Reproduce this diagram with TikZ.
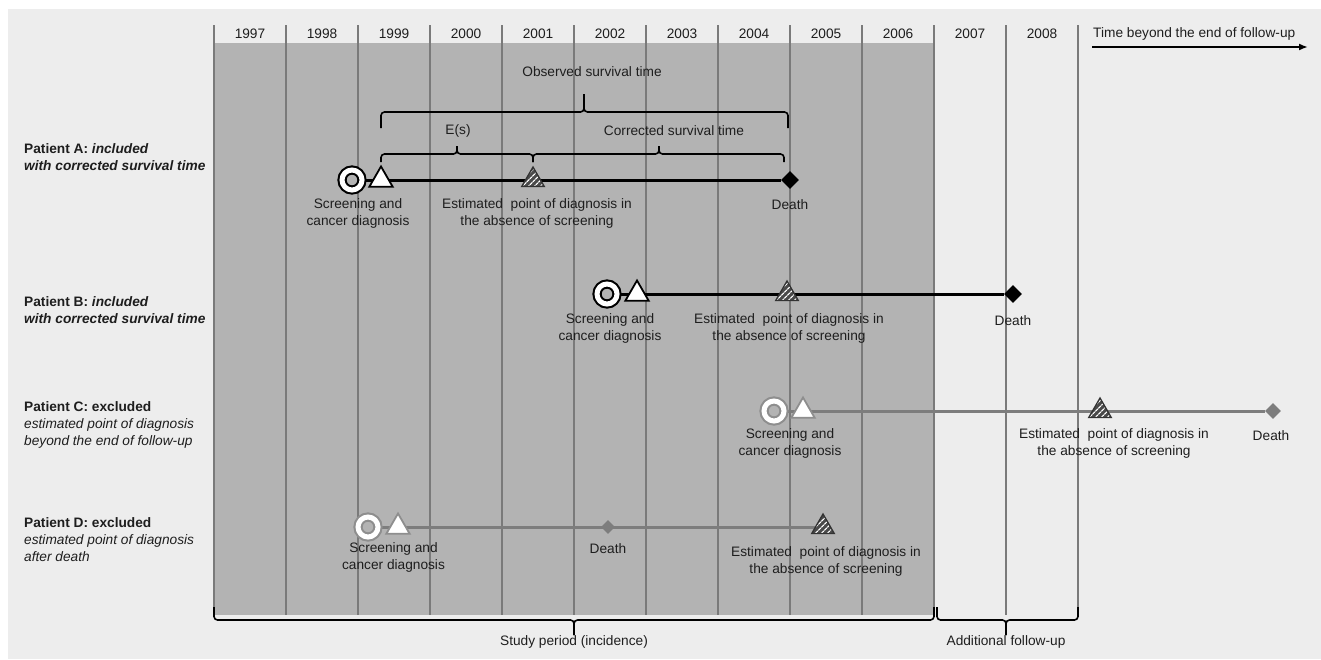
\documentclass[tikz,border=0pt]{standalone}
\usepackage{fontspec}
\setmainfont{Liberation Sans}
\usetikzlibrary{shapes.geometric,patterns.meta,arrows.meta}
\definecolor{bgc}{HTML}{EDEDED}
\definecolor{dark}{HTML}{B3B3B3}
\definecolor{gridc}{HTML}{7A7A7A}
\definecolor{txt}{HTML}{1E1E1E}
\definecolor{gline}{HTML}{7D7D7D}
\definecolor{gring}{HTML}{8E8E8E}
\definecolor{hatchbg}{HTML}{4A4A4A}
\pgfdeclarelayer{back}\pgfdeclarelayer{mid}\pgfsetlayers{back,mid,main}
\newcommand\fs{\fontsize{13.7}{17}\selectfont}
\begin{document}
\begin{tikzpicture}[x=1pt,y=-1pt,
 every node/.style={font=\fs, text=txt, inner sep=0pt},
 lab/.style={align=center},
 plab/.style={anchor=west, align=left},
 scr/.style={circle, draw=black, line width=2.1pt, double=white, double distance=5pt, fill=dark, minimum size=20pt, inner sep=0pt},
 scrg/.style={scr, draw=gring},
 tri/.style={regular polygon, regular polygon sides=3, draw=black, fill=white, line width=1.8pt, minimum size=27pt, inner sep=0pt},
 trig/.style={tri, draw=gring},
 hat/.style={regular polygon, regular polygon sides=3, draw=black!80, line width=1.3pt, minimum size=26pt, inner sep=0pt, preaction={fill=hatchbg}, pattern={Lines[angle=45,distance=4pt,line width=1.3pt]}, pattern color=white},
 dia/.style={diamond, fill=black, minimum size=18pt, inner sep=0pt},
 diag/.style={dia, fill=gline, minimum size=15pt},
 tl/.style={line width=3pt, draw=black},
 tlg/.style={tl, draw=gline},
 brc/.style={line width=1.6pt, rounded corners=3.5pt}
]
\useasboundingbox (0,0) rectangle (1321,659);
\begin{pgfonlayer}{back}
\fill[white] (0,0) rectangle (1321,659);
\fill[bgc] (8,9) rectangle (1321,659);
\fill[dark] (214,43) rectangle (934,615);
\foreach \i in {0,...,12} \draw[gridc, line width=1.1pt] (214+72*\i,25) -- (214+72*\i,615);
\end{pgfonlayer}

% header
\foreach \y [count=\i from 0] in {1997,...,2008} \node (y\y) at (250+72*\i,34) {\y};
\node[anchor=west] (tb) at (1093,34) {Time beyond the end of follow-up};
\coordinate (tbL) at (1092,47);
\coordinate (tbR) at (1308,47);
\draw[line width=2.5pt, -{Latex[length=9pt,width=7pt]}] (tbL) -- (tbR);

% patient labels
\node[plab, font=\fs\bfseries] (pA) at (24,157) {Patient A: \textit{included}\\\textit{with corrected survival time}};
\node[plab, font=\fs\bfseries] (pB) at (24,310.5) {Patient B: \textit{included}\\\textit{with corrected survival time}};
\node[plab] (pC) at (24,425) {\textbf{Patient C: excluded}\\\textit{estimated point of diagnosis}\\\textit{beyond the end of follow-up}};
\node[plab] (pD) at (24,539.5) {\textbf{Patient D: excluded}\\\textit{estimated point of diagnosis}\\\textit{after death}};

% Patient A
\node[scr] (cA) at (352,180) {};
\node[tri] (tA) at (381,180) {};
\node[hat] (hA) at (533,180) {};
\node[dia] (dA) at (790,180) {};
\node[lab] (sA) at (358,213.5) {Screening and\\cancer diagnosis};
\node[lab] (eA) at (537,213.5) {Estimated~ point of diagnosis in\\the absence of screening};
\node (xA) at (790,205) {Death};

% Patient B
\node[scr] (cB) at (607,294) {};
\node[tri] (tB) at (637,294) {};
\node[hat] (hB) at (787,294) {};
\node[dia] (dB) at (1013,294) {};
\node[lab] (sB) at (610,328.5) {Screening and\\cancer diagnosis};
\node[lab] (eB) at (789,328.5) {Estimated~ point of diagnosis in\\the absence of screening};
\node (xB) at (1013,321) {Death};

% Patient C
\node[scrg] (cC) at (774,411) {};
\node[trig] (tC) at (803,411) {};
\node[hat] (hC) at (1100,411) {};
\node[diag, minimum size=16pt] (dC) at (1273,411) {};
\node[lab] (sC) at (790,443.5) {Screening and\\cancer diagnosis};
\node[lab] (eC) at (1114,443) {Estimated~ point of diagnosis in\\the absence of screening};
\node (xC) at (1271,436) {Death};

% Patient D
\node[scrg] (cD) at (368,527) {};
\node[trig] (tD) at (398,527) {};
\node[diag, minimum size=14pt] (dD) at (608,527) {};
\node[hat] (hD) at (823,527) {};
\node[lab] (sD) at (393.5,557.5) {Screening and\\cancer diagnosis};
\node[lab] (eD) at (826,561.5) {Estimated~ point of diagnosis in\\the absence of screening};
\node (xD) at (608,549) {Death};

\begin{pgfonlayer}{mid}
\draw[tl] (cA) -- (dA);
\draw[tl] (cB) -- (dB);
\draw[tlg] (cC) -- (dC);
\draw[tlg] (cD) -- (hD);
\end{pgfonlayer}

% braces patient A
\draw[brc] (381,128) -- (381,112) -- (584,112) -- (584,94);
\draw[brc] (788,128) -- (788,112) -- (584,112) -- (584,94);
\node (obs) at (592,72) {Observed survival time};
\draw[brc] (381,162) -- (381,154) -- (457,154) -- (457,146);
\draw[brc] (533,162) -- (533,154) -- (457,154) -- (457,146);
\node (es) at (458,131) {E(s)};
\draw[brc] (533,162) -- (533,154) -- (659,154) -- (659,146);
\draw[brc] (784,162) -- (784,154) -- (659,154) -- (659,146);
\node (cor) at (674,131) {Corrected survival time};

% bottom braces
\draw[brc] (214,607) -- (214,620) -- (574,620) -- (574,635);
\draw[brc] (934,607) -- (934,620) -- (574,620) -- (574,635);
\node (sp) at (574,642) {Study period (incidence)};
\draw[brc] (937,607) -- (937,620) -- (1006,620) -- (1006,635);
\draw[brc] (1078,607) -- (1078,620) -- (1006,620) -- (1006,635);
\node (af) at (1006,642) {Additional follow-up};
\end{tikzpicture}
\end{document}
